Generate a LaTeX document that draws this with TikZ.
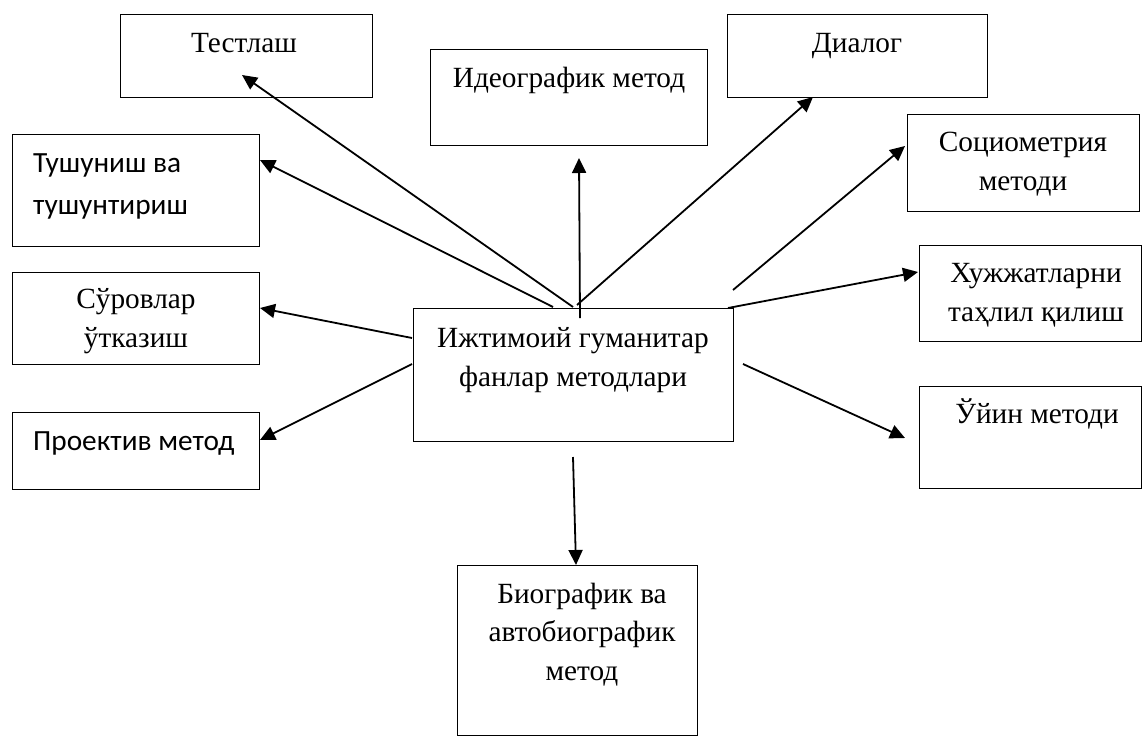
\documentclass[tikz,border=0pt]{standalone}
\usepackage{fontspec}
\setmainfont{Liberation Serif}
\newfontfamily\calfont{Carlito}
\usetikzlibrary{arrows.meta}
\begin{document}
\begin{tikzpicture}[x=1pt,y=-1pt,
 box/.style={draw, line width=1.2pt, inner sep=0pt, anchor=north west},
 lbl/.style={anchor=base, inner sep=0pt, align=center, font=\fontsize{29.3}{38.5}\selectfont},
 llbl/.style={anchor=base west, inner sep=0pt, align=left, font=\calfont\fontsize{29.3}{42}\selectfont},
 arr/.style={line width=1.8pt, -{Triangle[length=15pt,width=14pt]}}]
\useasboundingbox (0,0) rectangle (1142,736);
% boxes
\node[box, minimum width=252pt, minimum height=83pt] (test) at (120,14) {};
\node[box, minimum width=247pt, minimum height=112pt] (tush) at (12,134) {};
\node[box, minimum width=277pt, minimum height=96pt] (ideo) at (430,49) {};
\node[box, minimum width=260pt, minimum height=83pt] (dial) at (727,14) {};
\node[box, minimum width=232pt, minimum height=97pt] (soc) at (907,114) {};
\node[box, minimum width=222pt, minimum height=96pt] (hujj) at (919,245) {};
\node[box, minimum width=222pt, minimum height=102pt] (uyin) at (919,386) {};
\node[box, minimum width=247pt, minimum height=92pt] (surov) at (12,272) {};
\node[box, minimum width=247pt, minimum height=77pt] (proek) at (12,412) {};
\node[box, minimum width=320pt, minimum height=133pt] (main) at (413,308) {};
\node[box, minimum width=240pt, minimum height=170pt] (bio) at (457,565) {};
% labels (anchor = baseline of the last line)
\node[lbl] (testT) at (244,52) {Тестлаш};
\node[llbl] (tushT) at (33,214) {Тушуниш ва\\тушунтириш};
\node[lbl] (ideoT) at (569,87) {Идеографик метод};
\node[lbl] (dialT) at (857,52) {Диалог};
\node[lbl] (socT) at (1023,190) {Социометрия\\методи};
\node[lbl] (hujjT) at (1036,321) {Хужжатларни\\таҳлил қилиш};
\node[lbl] (uyinT) at (1037,423) {Ўйин методи};
\node[lbl] (surovT) at (136,347) {Сўровлар\\ўтказиш};
\node[llbl] (proekT) at (33,450) {Проектив метод};
\node[lbl] (mainT) at (573,386) {Ижтимоий гуманитар\\фанлар методлари};
\node[lbl] (bioT) at (582,680) {Биографик ва\\автобиографик\\метод};
% arrow ends
\coordinate (s1) at (573,307); \coordinate (e1) at (242,75);
\coordinate (s2) at (553,307); \coordinate (e2) at (260,160);
\coordinate (s3) at (580,318); \coordinate (e3) at (579,158);
\coordinate (s4) at (577,305); \coordinate (e4) at (813,97);
\coordinate (s5) at (733,290); \coordinate (e5) at (905,146);
\coordinate (s6) at (728,308); \coordinate (e6) at (918,272);
\coordinate (s7) at (743,364); \coordinate (e7) at (905,438);
\coordinate (s8) at (412,338); \coordinate (e8) at (260,308);
\coordinate (s9) at (412,364); \coordinate (e9) at (260,440);
\coordinate (s10) at (573,457); \coordinate (e10) at (576,565);
\foreach \i in {1,...,10} {\draw[arr] (s\i) -- (e\i);}
\end{tikzpicture}
\end{document}
